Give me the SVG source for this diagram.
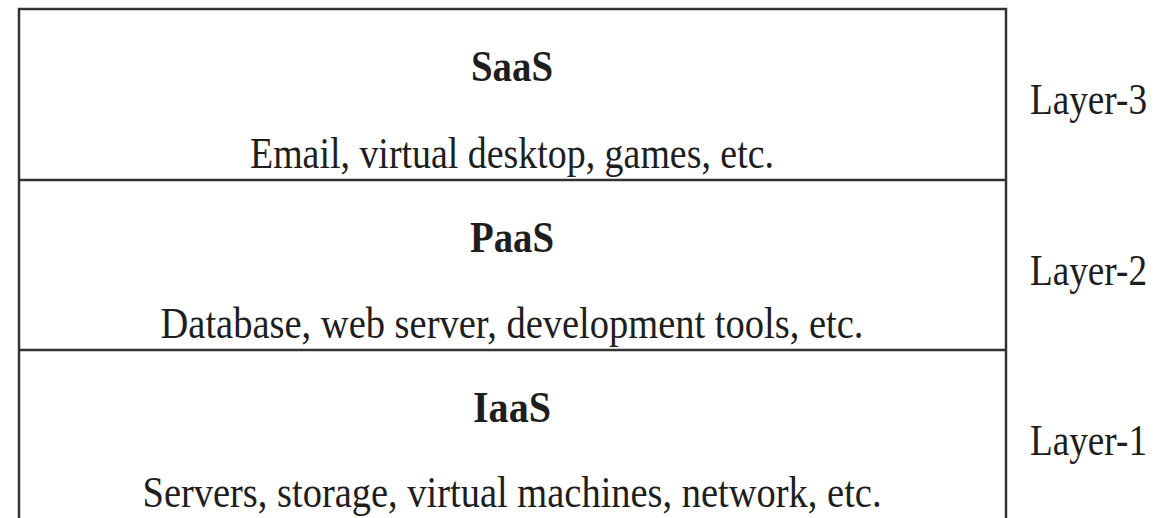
<svg xmlns="http://www.w3.org/2000/svg" width="1176" height="518" viewBox="0 0 1176 518">
<style>
.t{font-family:"Liberation Serif","Times New Roman",serif;font-size:44px;fill:#1e1e1e;text-anchor:middle}
.b{font-weight:bold}
.l{font-family:"Liberation Serif","Times New Roman",serif;font-size:44px;fill:#1e1e1e}
.ln{stroke:#333;stroke-width:2.5;fill:none}
</style>
<rect width="1176" height="518" fill="#fff"/>
<g id="connectors">
<path class="ln" d="M19 530 V9 H1006 V530"/>
<line class="ln" x1="19" y1="180" x2="1006" y2="180"/>
<line class="ln" x1="19" y1="350" x2="1006" y2="350"/>
</g>
<g id="saas">
<text class="t b" x="512" y="81" textLength="82" lengthAdjust="spacingAndGlyphs">SaaS</text>
<text class="t" x="512" y="168" textLength="524" lengthAdjust="spacingAndGlyphs">Email, virtual desktop, games, etc.</text>
</g>
<g id="paas">
<text class="t b" x="512" y="252" textLength="84" lengthAdjust="spacingAndGlyphs">PaaS</text>
<text class="t" x="512" y="338" textLength="703" lengthAdjust="spacingAndGlyphs">Database, web server, development tools, etc.</text>
</g>
<g id="iaas">
<text class="t b" x="512" y="422" textLength="78" lengthAdjust="spacingAndGlyphs">IaaS</text>
<text class="t" x="512" y="507" textLength="739" lengthAdjust="spacingAndGlyphs">Servers, storage, virtual machines, network, etc.</text>
</g>
<g id="layer3"><text class="l" x="1030" y="114" textLength="117" lengthAdjust="spacingAndGlyphs">Layer-3</text></g>
<g id="layer2"><text class="l" x="1030" y="285" textLength="117" lengthAdjust="spacingAndGlyphs">Layer-2</text></g>
<g id="layer1"><text class="l" x="1030" y="455" textLength="117" lengthAdjust="spacingAndGlyphs">Layer-1</text></g>
</svg>
